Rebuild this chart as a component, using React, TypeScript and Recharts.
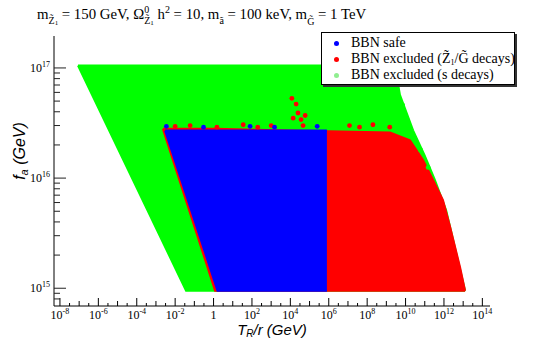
import { ComposedChart, Area, Scatter, XAxis, YAxis } from "recharts"

// axis ranges (log-log)
const xDomain = [4.9e-9, 2.5e14]
const yDomain = [6.9e14, 1.95e17]

const xTickExps = [
  -8, -7.5, -7, -6.5, -6, -5.5, -5, -4.5, -4, -3.5, -3, -2.5, -2, -1.5, -1, -0.5,
  0, 0.5, 1, 1.5, 2, 2.5, 3, 3.5, 4, 4.5, 5, 5.5, 6, 6.5, 7, 7.5, 8, 8.5, 9, 9.5,
  10, 10.5, 11, 11.5, 12, 12.5, 13, 13.5, 14,
]
const yTickValues = [
  8e14, 9e14, 1e15, 2e15, 3e15, 4e15, 5e15, 6e15, 7e15, 8e15, 9e15,
  1e16, 2e16, 3e16, 4e16, 5e16, 6e16, 7e16, 8e16, 9e16, 1e17,
]

// s-decay excluded region (green)
const greenX = [8.7e-8, 0.037, 2.8e9, 5.1e9, 2.5e10, 1e11, 3.4e11, 1.3e12, 1.26e13]
const greenLow = [1.05e17, 9.5e14, 9.5e14, 9.5e14, 9.5e14, 9.5e14, 9.5e14, 9.5e14, 9.5e14]
const greenHigh = [1.05e17, 1.05e17, 1.05e17, 5.7e16, 2.7e16, 1.6e16, 9.6e15, 5.1e15, 9.5e14]

// Z1/G decay excluded region (red)
const redX = [2.3e-3, 1.2, 1.55e9, 1.7e10, 8.1e10, 2.7e11, 8.9e11, 2.1e12, 6.9e12, 1.26e13]
const redLow = [2.8e16, 9.5e14, 9.5e14, 9.5e14, 9.5e14, 9.5e14, 9.5e14, 9.5e14, 9.5e14, 9.5e14]
const redHigh = [2.8e16, 2.8e16, 2.6e16, 2.2e16, 1.46e16, 9.6e15, 6.3e15, 3.6e15, 1.55e15, 9.5e14]

// BBN safe region (blue)
const blueX = [3e-3, 1.6, 8e5]
const blueLow = [2.7e16, 9.5e14, 9.5e14]
const blueHigh = [2.7e16, 2.7e16, 2.7e16]

// scattered points sticking out of the regions
const redDotX = [1.2e4, 2e4, 2.5e4, 5.9e4, 3.6e4, 1.4e4, 4.6e4, 0.01, 0.06, 1.5, 35, 200, 1000, 1.2e7, 4e7, 2e8, 1.5e9]
const redDotY = [5.3e16, 4.7e16, 3.9e16, 3.7e16, 3.4e16, 3.5e16, 3.0e16, 2.95e16, 3.0e16, 2.9e16, 3.05e16, 2.9e16, 3.0e16, 3.0e16, 2.9e16, 3.05e16, 2.9e16]
const blueDotX = [3.5e-3, 0.3, 80, 1500, 2.5e5]
const blueDotY = [2.95e16, 2.9e16, 2.95e16, 2.9e16, 2.95e16]
const greenDotX = [7e9, 1.2e10, 3e10, 6e10, 1.5e11]
const greenDotY = [4.6e16, 3.4e16, 2.3e16, 1.8e16, 1.25e16]

const legendNames = ["BBN safe", "BBN excluded", "BBN excluded (s decays)"]
const legendColors = ["#0000ff", "#ff0000", "#90ee90"]

const band = (xs: number[], lo: number[], hi: number[]) =>
  xs.map((x, i) => ({ x, band: [lo[i], hi[i]] }))
const dots = (xs: number[], ys: number[]) => xs.map((x, i) => ({ x, y: ys[i] }))

const serif = "'Liberation Serif', 'Times New Roman', serif"
const sans = "'Liberation Sans', Arial, sans-serif"

const isDecade = (v: number) => {
  const e = Math.log10(v)
  return Math.abs(e - Math.round(e)) < 1e-6
}

function XTick(props: any) {
  const { x, y, payload } = props
  const e = Math.log10(payload.value)
  const decade = isDecade(payload.value)
  const r = Math.round(e)
  const labeled = decade && r % 2 === 0
  const len = labeled ? 8 : decade ? 5 : 3
  return (
    <g>
      <line x1={x} x2={x} y1={y} y2={y - len} stroke="#000" />
      {labeled && (
        <text x={x} y={y + 13} textAnchor="middle" fontFamily={serif} fontSize={12} fill="#000">
          {r === 0 ? "1" : "10"}
          {r !== 0 && (
            <tspan dy={-5} fontSize={8}>
              {String(r)}
            </tspan>
          )}
        </text>
      )}
    </g>
  )
}

function YTick(props: any) {
  const { x, y, payload } = props
  const decade = isDecade(payload.value)
  const r = Math.round(Math.log10(payload.value))
  return (
    <g>
      <line x1={x} x2={x + (decade ? 12 : 6)} y1={y} y2={y} stroke="#222" />
      {decade && (
        <text x={x - 4} y={y + 4} textAnchor="end" fontFamily={serif} fontSize={12} fill="#000">
          10
          <tspan dy={-5} fontSize={8}>
            {String(r)}
          </tspan>
        </text>
      )}
    </g>
  )
}

const dot = (color: string) => (p: any) => <circle cx={p.cx} cy={p.cy} r={2.4} fill={color} />

export default function App() {
  const xTicks = xTickExps.map((e) => Math.pow(10, e))
  return (
    <div style={{ position: "absolute", left: 0, top: 0, width: 545, height: 340, background: "#fff" }}>
      <ComposedChart width={545} height={340} margin={{ top: 36, right: 55, bottom: 0, left: 0 }}>
        <XAxis
          dataKey="x"
          type="number"
          scale="log"
          domain={xDomain}
          allowDataOverflow
          ticks={xTicks}
          interval={0}
          height={34}
          tickSize={0}
          tickMargin={0}
          tickLine={false}
          axisLine={{ stroke: "#000" }}
          tick={<XTick />}
        />
        <XAxis xAxisId="top" orientation="top" type="number" scale="log" domain={xDomain} allowDataOverflow height={0} tick={false} tickLine={false} axisLine={{ stroke: "#000" }} />
        <YAxis
          type="number"
          scale="log"
          domain={yDomain}
          allowDataOverflow
          ticks={yTickValues}
          interval={0}
          width={54}
          tickSize={0}
          tickMargin={0}
          tickLine={false}
          axisLine={{ stroke: "#000" }}
          tick={<YTick />}
        />
        <YAxis yAxisId="right" orientation="right" type="number" scale="log" domain={yDomain} allowDataOverflow width={0} tick={false} tickLine={false} axisLine={{ stroke: "#000" }} />
        <Area data={band(greenX, greenLow, greenHigh)} dataKey="band" type="linear" fill="#00ff00" fillOpacity={1} stroke="#00ff00" strokeWidth={2} isAnimationActive={false} />
        <Scatter data={dots(greenDotX, greenDotY)} dataKey="y" shape={dot("#00ff00")} isAnimationActive={false} />
        <Area data={band(redX, redLow, redHigh)} dataKey="band" type="linear" fill="#ff0000" fillOpacity={1} stroke="#ff0000" strokeWidth={2} isAnimationActive={false} />
        <Scatter data={dots(redDotX, redDotY)} dataKey="y" shape={dot("#ff0000")} isAnimationActive={false} />
        <Area data={band(blueX, blueLow, blueHigh)} dataKey="band" type="linear" fill="#0000ff" fillOpacity={1} stroke="#0000ff" strokeWidth={2} isAnimationActive={false} />
        <Scatter data={dots(blueDotX, blueDotY)} dataKey="y" shape={dot("#0000ff")} isAnimationActive={false} />
      </ComposedChart>

      <svg width={545} height={340} style={{ position: "absolute", left: 0, top: 0, pointerEvents: "none" }}>
        <text x={37} y={19} fontFamily={serif} fontSize={14.8} fill="#000">
          m<tspan dy={5} fontSize={10}>Z̃</tspan>
          <tspan dy={1} fontSize={7}>1</tspan>
          <tspan dy={-6} fontSize={14.8}> = 150 GeV, Ω</tspan>
          <tspan dy={-6} fontSize={10}>0</tspan>
          <tspan dx={-5} dy={11} fontSize={10}>Z̃</tspan>
          <tspan dy={1} fontSize={7}>1</tspan>
          <tspan dy={-6} fontSize={14.8}> h</tspan>
          <tspan dy={-6} fontSize={10}>2</tspan>
          <tspan dy={6} fontSize={14.8}> = 10, m</tspan>
          <tspan dy={5} fontSize={10}>ã</tspan>
          <tspan dy={-5} fontSize={14.8}> = 100 keV, m</tspan>
          <tspan dy={6} fontSize={10}>G̃</tspan>
          <tspan dy={-6} fontSize={14.8}> = 1 TeV</tspan>
        </text>
        <text transform="rotate(-90 25 151)" x={25} y={151} textAnchor="middle" fontFamily={sans} fontStyle="italic" fontSize={16} fill="#000">
          f<tspan dy={3} fontSize={11}>a</tspan>
          <tspan dy={-3}> (GeV)</tspan>
        </text>
        <text x={272} y={335} textAnchor="middle" fontFamily={sans} fontStyle="italic" fontSize={15} fill="#000">
          T<tspan dy={2} fontSize={10}>R</tspan>
          <tspan dy={-2}>/r (GeV)</tspan>
        </text>
      </svg>

      <div
        style={{
          position: "absolute",
          left: 321,
          top: 32,
          width: 192,
          height: 51,
          background: "#fff",
          border: "1px solid #000",
          boxShadow: "2px 2px 0 #333",
          fontFamily: serif,
          fontSize: 14,
          color: "#000",
        }}
      >
        {legendNames.map((name, i) => (
          <div key={name} style={{ position: "absolute", left: 0, top: 2 + i * 16, height: 16, lineHeight: "16px", whiteSpace: "nowrap" }}>
            <span style={{ position: "absolute", left: 12, top: 6, width: 5, height: 5, borderRadius: 3, background: legendColors[i] }} />
            <span style={{ position: "absolute", left: 29, top: 0 }}>
              {i === 1 ? (
                <>
                  {name} (Z̃<span style={{ fontSize: 8, position: "relative", top: 2 }}>1</span>/G̃ decays)
                </>
              ) : (
                name
              )}
            </span>
          </div>
        ))}
      </div>
    </div>
  )
}
